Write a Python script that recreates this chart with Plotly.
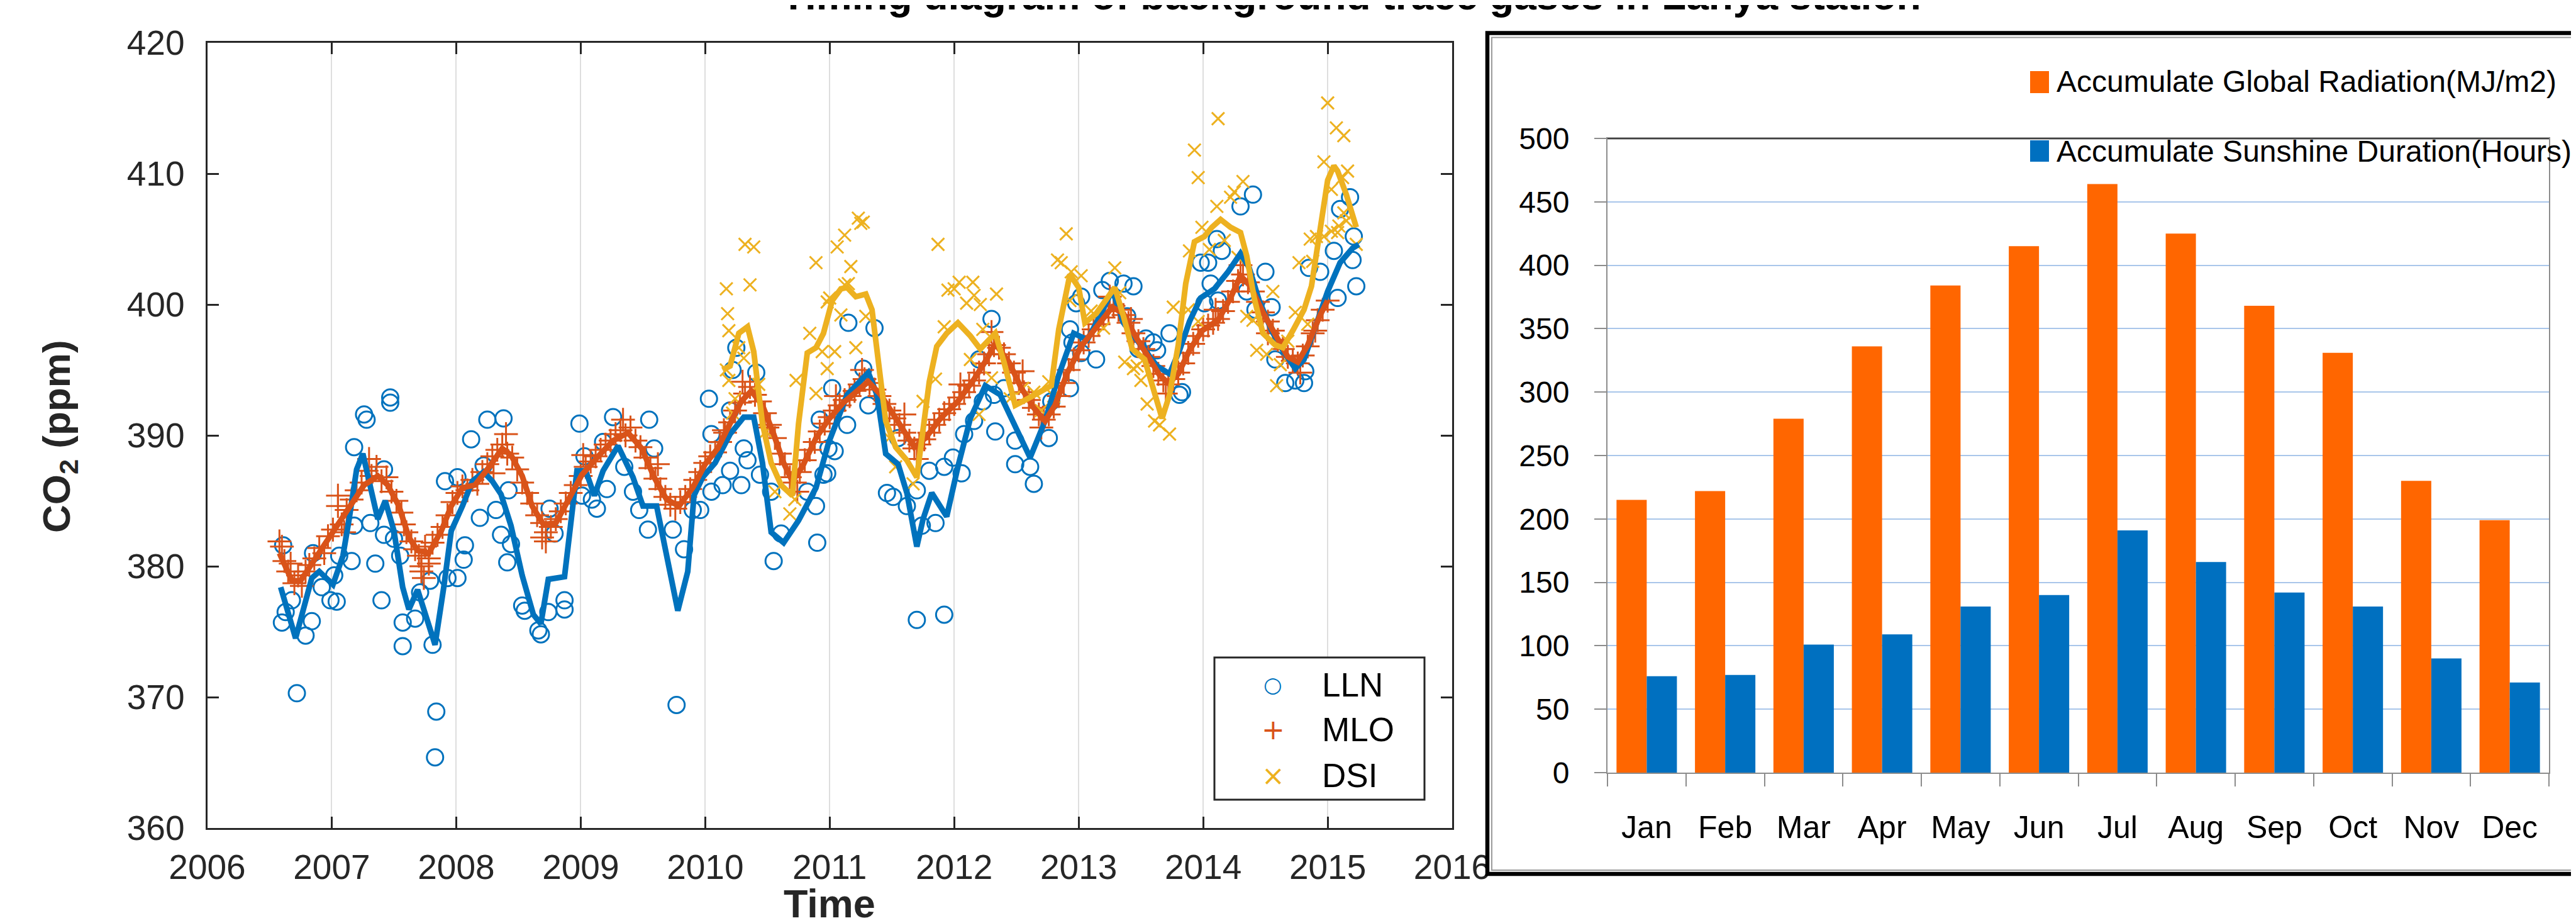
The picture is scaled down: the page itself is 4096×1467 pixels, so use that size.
import plotly.graph_objects as go

# ---------------- data : left panel (CO2 time series) ----------------
LLN_T = [2006.60, 2006.61, 2006.63, 2006.68, 2006.72, 2006.79, 2006.84, 2006.85, 2006.92, 2006.99,
         2007.02, 2007.04, 2007.06, 2007.16, 2007.18, 2007.18, 2007.26, 2007.28, 2007.31, 2007.35,
         2007.40, 2007.42, 2007.42, 2007.47, 2007.47, 2007.50, 2007.55, 2007.57, 2007.57, 2007.67,
         2007.71, 2007.79, 2007.81, 2007.83, 2007.84, 2007.91, 2007.93, 2008.01, 2008.01, 2008.06,
         2008.07, 2008.12, 2008.19, 2008.22, 2008.25, 2008.32, 2008.36, 2008.38, 2008.41, 2008.42,
         2008.44, 2008.53, 2008.55, 2008.66, 2008.68, 2008.74, 2008.75, 2008.79, 2008.87, 2008.87,
         2008.99, 2009.01, 2009.03, 2009.09, 2009.13, 2009.18, 2009.21, 2009.26, 2009.35, 2009.42,
         2009.47, 2009.54, 2009.55, 2009.59, 2009.74, 2009.77, 2009.83, 2009.90, 2009.96, 2010.03,
         2010.05, 2010.05, 2010.14, 2010.20, 2010.20, 2010.22, 2010.25, 2010.29, 2010.31, 2010.34,
         2010.41, 2010.44, 2010.53, 2010.55, 2010.61, 2010.82, 2010.89, 2010.90, 2010.92, 2010.95,
         2010.98, 2010.99, 2011.02, 2011.04, 2011.14, 2011.15, 2011.27, 2011.31, 2011.36, 2011.46,
         2011.51, 2011.55, 2011.62, 2011.70, 2011.70, 2011.74, 2011.80, 2011.85, 2011.92, 2011.92,
         2011.99, 2012.06, 2012.08, 2012.16, 2012.20, 2012.23, 2012.30, 2012.32, 2012.33, 2012.40,
         2012.49, 2012.49, 2012.61, 2012.64, 2012.76, 2012.78, 2012.93, 2012.93, 2012.95, 2012.98,
         2013.02, 2013.02, 2013.14, 2013.19, 2013.25, 2013.36, 2013.39, 2013.44, 2013.48, 2013.54,
         2013.60, 2013.63, 2013.73, 2013.81, 2013.83, 2013.98, 2014.01, 2014.04, 2014.06, 2014.11,
         2014.12, 2014.15, 2014.30, 2014.35, 2014.40, 2014.42, 2014.50, 2014.55, 2014.58, 2014.66,
         2014.74, 2014.81, 2014.82, 2014.85, 2014.94, 2015.05, 2015.08, 2015.10, 2015.18, 2015.20,
         2015.21, 2015.23]
LLN_V = [375.7, 381.6, 376.5, 377.4, 370.3, 374.7, 375.8, 381.0, 378.4, 377.4,
         379.3, 377.3, 380.8, 380.4, 383.1, 389.1, 391.6, 391.2, 383.3, 380.2,
         377.4, 387.4, 382.4, 392.9, 392.5, 382.1, 380.8, 375.7, 373.9, 376.0,
         378.0, 378.9, 374.0, 365.4, 368.9, 386.5, 379.1, 379.1, 386.8, 380.5,
         381.6, 389.7, 383.7, 387.7, 391.2, 384.3, 382.4, 391.3, 380.3, 385.8,
         381.7, 377.0, 376.6, 375.1, 374.8, 376.5, 384.4, 382.5, 377.4, 376.7,
         390.9, 385.4, 388.4, 385.1, 384.4, 389.5, 385.9, 391.4, 387.6, 385.7,
         384.3, 382.8, 391.2, 389.0, 382.8, 369.4, 381.3, 384.3, 384.3, 392.8,
         390.1, 385.7, 386.2, 387.3, 391.9, 395.0, 396.7, 386.2, 389.0, 388.1,
         394.8, 387.0, 385.7, 380.4, 382.5, 385.7, 384.6, 381.8, 391.2, 387.0,
         387.1, 389.0, 393.6, 388.8, 390.8, 398.6, 395.1, 392.3, 398.2, 385.6,
         385.3, 389.8, 384.6, 375.9, 385.8, 383.1, 387.3, 383.3, 376.3, 387.6,
         388.3, 387.1, 390.1, 391.1, 395.8, 392.6, 398.9, 393.1, 390.3, 393.6,
         387.8, 389.6, 387.6, 386.3, 389.8, 392.6, 393.6, 398.1, 397.1, 400.1,
         400.6, 396.3, 395.8, 401.1, 401.8, 401.6, 399.1, 401.4, 396.6, 397.4,
         397.1, 396.5, 397.8, 393.1, 393.3, 403.2, 400.1, 403.2, 401.6, 405.0,
         400.3, 404.1, 407.5, 401.0, 408.4, 399.6, 402.5, 399.8, 395.8, 394.0,
         394.2, 394.0, 394.9, 402.8, 402.5, 404.1, 400.5, 407.3, 408.2, 403.4,
         405.2, 401.4]

MLO_T = [2006.60, 2006.62, 2006.65, 2006.67, 2006.70, 2006.73, 2006.76, 2006.79, 2006.82, 2006.86,
         2006.90, 2006.94, 2006.97, 2007.01, 2007.05, 2007.08, 2007.12, 2007.16, 2007.20, 2007.24,
         2007.28, 2007.32, 2007.36, 2007.40, 2007.44, 2007.48, 2007.52, 2007.56, 2007.60, 2007.64,
         2007.67, 2007.70, 2007.72, 2007.75, 2007.78, 2007.81, 2007.85, 2007.89, 2007.93, 2007.97,
         2008.01, 2008.05, 2008.09, 2008.13, 2008.17, 2008.21, 2008.25, 2008.29, 2008.33, 2008.37,
         2008.41, 2008.45, 2008.49, 2008.53, 2008.57, 2008.61, 2008.65, 2008.69, 2008.72, 2008.76,
         2008.80, 2008.84, 2008.88, 2008.92, 2008.96, 2009.00, 2009.04, 2009.08, 2009.12, 2009.16,
         2009.20, 2009.24, 2009.28, 2009.32, 2009.36, 2009.40, 2009.44, 2009.48, 2009.52, 2009.56,
         2009.60, 2009.64, 2009.68, 2009.72, 2009.76, 2009.80, 2009.84, 2009.88, 2009.92, 2009.96,
         2010.00, 2010.04, 2010.08, 2010.12, 2010.16, 2010.20, 2010.24, 2010.28, 2010.32, 2010.36,
         2010.40, 2010.44, 2010.48, 2010.52, 2010.56, 2010.60, 2010.64, 2010.68, 2010.72, 2010.76,
         2010.80, 2010.84, 2010.88, 2010.92, 2010.96, 2011.00, 2011.04, 2011.08, 2011.12, 2011.16,
         2011.20, 2011.24, 2011.28, 2011.32, 2011.36, 2011.40, 2011.44, 2011.48, 2011.52, 2011.56,
         2011.60, 2011.64, 2011.68, 2011.72, 2011.76, 2011.80, 2011.84, 2011.88, 2011.92, 2011.96,
         2012.00, 2012.04, 2012.08, 2012.12, 2012.16, 2012.20, 2012.24, 2012.28, 2012.32, 2012.36,
         2012.40, 2012.44, 2012.48, 2012.52, 2012.56, 2012.60, 2012.64, 2012.68, 2012.72, 2012.76,
         2012.80, 2012.84, 2012.88, 2012.92, 2012.96, 2013.00, 2013.04, 2013.08, 2013.12, 2013.16,
         2013.20, 2013.24, 2013.28, 2013.32, 2013.36, 2013.40, 2013.44, 2013.48, 2013.52, 2013.56,
         2013.60, 2013.64, 2013.68, 2013.72, 2013.76, 2013.80, 2013.84, 2013.88, 2013.92, 2013.96,
         2014.00, 2014.04, 2014.08, 2014.12, 2014.16, 2014.20, 2014.24, 2014.28, 2014.32, 2014.36,
         2014.40, 2014.44, 2014.48, 2014.52, 2014.56, 2014.60, 2014.64, 2014.68, 2014.72, 2014.76,
         2014.80, 2014.84, 2014.88, 2014.92, 2014.96, 2015.00,
         2006.58, 2007.05, 2007.10, 2007.30, 2007.58, 2007.72, 2007.74, 2007.78, 2008.30, 2008.40,
         2008.69, 2008.72, 2009.02, 2009.34, 2009.62, 2010.15, 2010.30, 2010.50, 2010.74, 2011.05,
         2011.26, 2011.60, 2011.70, 2012.05, 2012.30, 2012.55, 2012.70, 2013.25, 2013.42, 2013.70,
         2014.10, 2014.30, 2014.52, 2014.78, 2014.90]
MLO_V = [381.5, 380.4, 379.6, 380.2, 378.7, 379.3, 378.5, 379.6, 380.1, 380.6,
         381.4, 381.0, 382.3, 382.8, 384.6, 383.2, 384.3, 385.1, 385.8, 386.4,
         387.3, 386.9, 387.6, 386.5, 386.8, 385.7, 385.0, 384.1, 382.6, 381.9,
         381.3, 380.8, 380.0, 381.5, 380.6, 381.8, 382.4, 383.0, 383.9, 384.9,
         385.6, 386.1, 385.8, 386.6, 386.3, 387.2, 387.8, 388.4, 388.9, 389.3,
         388.6, 388.3, 387.4, 386.4, 385.6, 384.8, 383.9, 383.3, 382.6, 383.0,
         383.6, 384.2, 384.8, 385.6, 386.2, 386.9, 387.6, 388.0, 388.4, 388.9,
         389.3, 389.6, 390.1, 390.4, 390.0, 390.6, 389.6, 389.1, 388.3, 387.5,
         386.7, 385.9, 385.3, 384.7, 384.4, 384.9, 385.3, 385.9, 386.6, 387.2,
         387.9, 388.4, 388.7, 389.5, 390.2, 391.0, 391.9, 392.5, 393.2, 393.7,
         393.1, 392.6, 391.7, 390.8, 389.8, 388.6, 387.8, 386.8, 386.4, 387.2,
         388.1, 388.9, 389.5, 390.3, 390.9, 391.4, 391.9, 392.3, 392.7, 393.0,
         393.4, 393.9, 394.3, 394.0, 393.5, 393.0, 392.4, 391.9, 391.3, 390.8,
         390.2, 389.6, 389.0, 389.3, 389.7, 390.2, 390.8, 391.2, 391.7, 392.0,
         392.4, 392.9, 393.3, 393.8, 394.2, 394.8, 395.5, 396.2, 396.9, 396.7,
         396.2, 395.5, 394.8, 394.0, 393.3, 392.7, 392.1, 391.6, 391.2, 391.6,
         392.2, 393.0, 394.0, 395.0, 395.8, 396.5, 397.1, 397.6, 398.1, 398.5,
         399.0, 399.5, 399.9, 399.6, 399.2, 398.6, 397.8, 397.2, 396.6, 396.0,
         395.3, 394.7, 394.2, 393.9, 394.3, 394.8, 395.5, 396.3, 397.0, 397.6,
         398.1, 398.4, 398.6, 398.9, 399.5, 400.2, 401.0, 401.8, 402.3, 401.7,
         401.0, 400.2, 399.4, 398.7, 398.0, 397.3, 396.6, 396.0, 395.7, 395.5,
         396.1, 396.8, 397.8, 398.8, 399.6, 400.3,
         381.9, 385.4, 382.6, 388.2, 383.2, 379.6, 379.1, 380.2, 387.1, 390.1,
         382.2, 381.9, 388.5, 391.2, 387.8, 390.4, 394.1, 390.6, 385.7, 393.0,
         395.0, 391.6, 388.2, 393.9, 397.9, 394.9, 390.6, 400.6, 398.9, 393.2,
         399.6, 403.0, 397.8, 394.8, 398.0]

DSI_T = [2010.17, 2010.18, 2010.19, 2010.17, 2010.19, 2010.22, 2010.24, 2010.27, 2010.31, 2010.32,
         2010.36, 2010.39, 2010.43, 2010.49, 2010.56, 2010.68, 2010.72, 2010.73, 2010.84, 2010.89,
         2010.89, 2010.94, 2010.98, 2010.98, 2011.00, 2011.04, 2011.06, 2011.09, 2011.12, 2011.12,
         2011.15, 2011.17, 2011.21, 2011.23, 2011.25, 2011.27, 2011.29, 2011.48, 2011.53, 2011.67,
         2011.75, 2011.85, 2011.87, 2011.92, 2011.95, 2012.00, 2012.04, 2012.10, 2012.13, 2012.15,
         2012.16, 2012.20, 2012.21, 2012.23, 2012.30, 2012.34, 2012.45, 2012.55, 2012.64, 2012.70,
         2012.76, 2012.80, 2012.83, 2012.86, 2012.90, 2012.93, 2012.94, 2013.02, 2013.10, 2013.20,
         2013.29, 2013.33, 2013.37, 2013.44, 2013.47, 2013.50, 2013.55, 2013.61, 2013.65, 2013.73,
         2013.76, 2013.88, 2013.89, 2013.93, 2013.96, 2013.96, 2013.99, 2014.05, 2014.11, 2014.12,
         2014.17, 2014.22, 2014.25, 2014.28, 2014.32, 2014.35, 2014.40, 2014.43, 2014.51, 2014.56,
         2014.59, 2014.62, 2014.68, 2014.74, 2014.77, 2014.84, 2014.86, 2014.88, 2014.91, 2014.97,
         2014.97, 2015.00, 2015.03, 2015.03, 2015.07, 2015.08, 2015.09, 2015.12, 2015.13, 2015.13,
         2015.15, 2015.16, 2015.23]
DSI_V = [401.2, 399.3, 398.0, 395.0, 394.2, 391.7, 392.8, 396.7, 395.9, 404.6,
         401.5, 404.4, 393.9, 390.3, 385.7, 384.0, 385.1, 394.2, 397.8, 393.2,
         403.2, 396.4, 395.1, 400.2, 400.5, 396.4, 404.4, 399.2, 405.3, 401.5,
         401.6, 402.9, 396.7, 406.6, 406.2, 406.3, 399.1, 389.8, 387.6, 386.3,
         392.6, 394.3, 404.6, 398.3, 401.1, 401.2, 401.7, 400.1, 395.8, 401.7,
         400.7, 391.6, 400.0, 398.1, 394.4, 400.8, 392.8, 393.6, 393.3, 391.9,
         394.1, 393.0, 403.4, 403.2, 405.4, 400.3, 402.5, 402.2, 399.5, 398.2,
         402.8, 400.9, 395.6, 395.1, 395.3, 394.2, 392.4, 391.1, 390.8, 390.1,
         399.8, 399.6, 404.1, 411.8, 409.7, 398.7, 405.9, 404.2, 407.5, 414.2,
         404.9, 408.2, 408.6, 403.6, 409.4, 399.1, 398.8, 396.5, 396.2, 401.0,
         393.8, 395.4, 397.2, 399.4, 403.2, 398.5, 405.0, 403.3, 405.2, 405.2,
         410.9, 415.4, 408.8, 405.6, 413.5, 405.5, 406.0, 409.7, 412.9, 407.0,
         406.4, 410.2, 404.6]

LLN_FIT_T = [2006.59, 2006.71, 2006.84, 2006.90, 2007.01, 2007.09, 2007.14, 2007.20, 2007.25, 2007.30,
             2007.37, 2007.43, 2007.50, 2007.57, 2007.62, 2007.69, 2007.78, 2007.83, 2007.90, 2007.96,
             2008.05, 2008.13, 2008.22, 2008.29, 2008.36, 2008.44, 2008.53, 2008.62, 2008.68, 2008.74,
             2008.87, 2008.92, 2008.97, 2009.04, 2009.11, 2009.18, 2009.30, 2009.42, 2009.50, 2009.61,
             2009.69, 2009.78, 2009.86, 2009.91, 2009.98, 2010.08, 2010.20, 2010.31, 2010.39, 2010.46,
             2010.53, 2010.63, 2010.75, 2010.89, 2010.99, 2011.14, 2011.31, 2011.38, 2011.45, 2011.55,
             2011.62, 2011.70, 2011.75, 2011.82, 2011.94, 2012.03, 2012.13, 2012.25, 2012.37, 2012.49,
             2012.61, 2012.73, 2012.84, 2012.96, 2013.07, 2013.17, 2013.27, 2013.36, 2013.46, 2013.54,
             2013.63, 2013.73, 2013.81, 2013.89, 2013.98, 2014.09, 2014.20, 2014.30, 2014.37, 2014.45,
             2014.55, 2014.64, 2014.74, 2014.81, 2014.90, 2015.00, 2015.10, 2015.20, 2015.25]
LLN_FIT_V = [378.4, 374.5, 379.1, 379.6, 378.6, 380.8, 383.6, 387.4, 388.6, 386.7,
             383.6, 385.0, 382.7, 378.4, 376.7, 378.2, 375.5, 374.0, 378.4, 382.7,
             384.6, 386.5, 387.2, 386.5, 385.5, 383.1, 379.3, 376.3, 375.6, 379.0,
             379.2, 383.5, 387.3, 387.3, 385.4, 387.3, 389.2, 386.8, 384.6, 384.6,
             380.7, 376.6, 379.6, 385.4, 386.8, 387.9, 390.1, 391.4, 391.4, 387.9,
             382.6, 381.8, 383.5, 386.0, 389.4, 393.1, 394.8, 393.1, 388.6, 387.8,
             385.6, 381.5, 383.6, 385.6, 383.8, 387.6, 391.3, 393.8, 393.1, 390.6,
             388.3, 391.1, 394.6, 397.8, 397.3, 399.1, 401.1, 398.6, 397.4, 396.5,
             395.3, 394.7, 396.5, 398.7, 400.5, 401.2, 402.5, 403.9, 402.8, 400.3,
             398.0, 396.5, 395.1, 395.8, 398.3, 401.0, 403.2, 404.3, 404.6]

MLO_FIT_T = [2006.58, 2006.68, 2006.75, 2006.85, 2006.96, 2007.06, 2007.16, 2007.26, 2007.37, 2007.45,
             2007.54, 2007.62, 2007.69, 2007.78, 2007.88, 2007.96, 2008.05, 2008.15, 2008.25, 2008.37,
             2008.44, 2008.53, 2008.61, 2008.70, 2008.80, 2008.91, 2009.01, 2009.15, 2009.26, 2009.38,
             2009.49, 2009.59, 2009.69, 2009.79, 2009.90, 2010.00, 2010.10, 2010.20, 2010.29, 2010.37,
             2010.46, 2010.55, 2010.63, 2010.70, 2010.78, 2010.89, 2010.99, 2011.11, 2011.21, 2011.31,
             2011.41, 2011.51, 2011.62, 2011.68, 2011.77, 2011.89, 2012.03, 2012.16, 2012.26, 2012.33,
             2012.44, 2012.54, 2012.64, 2012.73, 2012.81, 2012.91, 2013.02, 2013.15, 2013.27, 2013.36,
             2013.46, 2013.56, 2013.65, 2013.72, 2013.80, 2013.89, 2013.99, 2014.12, 2014.22, 2014.30,
             2014.38, 2014.48, 2014.58, 2014.68, 2014.76, 2014.84, 2014.94, 2015.00]
MLO_FIT_V = [381.0, 378.9, 378.9, 380.3, 381.9, 383.4, 384.8, 386.2, 386.9, 386.2,
             384.6, 382.2, 381.2, 381.0, 382.7, 384.6, 386.0, 386.2, 387.4, 389.0,
             388.5, 386.9, 384.6, 383.2, 383.3, 385.2, 387.0, 388.5, 389.6, 390.2,
             389.0, 386.8, 385.1, 384.6, 386.0, 387.8, 389.0, 390.9, 392.6, 393.4,
             392.3, 390.1, 387.9, 386.5, 387.6, 389.8, 391.2, 392.5, 393.3, 394.1,
             393.1, 391.6, 390.0, 389.1, 389.8, 391.3, 392.6, 394.3, 395.8, 397.0,
             395.6, 393.6, 392.1, 391.1, 392.3, 394.8, 396.8, 398.3, 399.8, 399.3,
             397.5, 396.0, 394.6, 394.0, 394.7, 396.5, 398.0, 398.8, 400.5, 402.2,
             401.4, 399.4, 397.6, 396.0, 395.6, 396.9, 399.2, 400.3]

DSI_FIT_T = [2010.14, 2010.20, 2010.27, 2010.34, 2010.39, 2010.46, 2010.53, 2010.61, 2010.70, 2010.75,
             2010.82, 2010.89, 2010.95, 2011.02, 2011.09, 2011.14, 2011.21, 2011.29, 2011.34, 2011.39,
             2011.45, 2011.53, 2011.62, 2011.70, 2011.75, 2011.80, 2011.86, 2011.94, 2012.03, 2012.13,
             2012.21, 2012.33, 2012.40, 2012.49, 2012.59, 2012.69, 2012.78, 2012.84, 2012.93, 2013.00,
             2013.05, 2013.14, 2013.24, 2013.29, 2013.36, 2013.43, 2013.53, 2013.60, 2013.67, 2013.73,
             2013.80, 2013.86, 2013.93, 2014.01, 2014.07, 2014.14, 2014.22, 2014.30, 2014.35, 2014.41,
             2014.48, 2014.58, 2014.64, 2014.72, 2014.81, 2014.87, 2014.94, 2015.00, 2015.05, 2015.08,
             2015.15, 2015.23]
DSI_FIT_V = [395.0, 395.3, 397.8, 398.3, 396.4, 390.9, 387.9, 386.2, 385.4, 390.9,
             396.3, 396.7, 397.8, 400.3, 401.2, 401.3, 400.6, 400.8, 399.6, 395.6,
             391.1, 389.1, 388.1, 386.8, 390.6, 394.1, 396.8, 397.8, 398.6, 397.6,
             396.6, 397.8, 395.6, 392.3, 392.8, 393.3, 393.8, 398.1, 402.3, 401.3,
             398.6, 399.3, 400.6, 401.3, 399.1, 396.6, 395.8, 393.6, 391.3, 393.1,
             396.9, 401.6, 404.8, 405.2, 405.9, 406.5, 405.9, 405.5, 403.7, 400.5,
             397.8, 396.9, 396.7, 398.0, 399.6, 401.4, 405.9, 409.5, 410.6, 410.2,
             408.4, 405.9]

YEAR_TICKS = [2006, 2007, 2008, 2009, 2010, 2011, 2012, 2013, 2014, 2015, 2016]
PPM_TICKS = [360, 370, 380, 390, 400, 410, 420]

# ---------------- data : right panel (monthly bars) ----------------
MONTHS = ["Jan", "Feb", "Mar", "Apr", "May", "Jun", "Jul", "Aug", "Sep", "Oct", "Nov", "Dec"]
RADIATION = [215, 222, 279, 336, 384, 415, 464, 425, 368, 331, 230, 199]
SUNSHINE = [76, 77, 101, 109, 131, 140, 191, 166, 142, 131, 90, 71]
BAR_TICKS = [0, 50, 100, 150, 200, 250, 300, 350, 400, 450, 500]

# ---------------- styling ----------------
W, H = 4096, 1467
C_LLN, C_MLO, C_DSI = "#0072BD", "#D95319", "#EDB120"
C_RAD, C_SUN = "#FF6600", "#0070C0"
FONT = "Liberation Sans, Arial, Helvetica, sans-serif"
AX = "#262626"


def px(x):
    return x / W


def py(y):
    return 1 - y / H


fig = go.Figure()

fig.add_trace(go.Scatter(x=LLN_T, y=LLN_V, mode="markers", name="LLN",
                         marker=dict(symbol="circle-open", size=26, color=C_LLN,
                                     line=dict(width=3, color=C_LLN)),
                         xaxis="x", yaxis="y", showlegend=False))
fig.add_trace(go.Scatter(x=MLO_T, y=MLO_V, mode="markers", name="MLO",
                         marker=dict(symbol="cross-thin-open", size=27, color=C_MLO,
                                     line=dict(width=3, color=C_MLO)),
                         xaxis="x", yaxis="y", showlegend=False))
fig.add_trace(go.Scatter(x=DSI_T, y=DSI_V, mode="markers", name="DSI",
                         marker=dict(symbol="x-thin-open", size=20, color=C_DSI,
                                     line=dict(width=3, color=C_DSI)),
                         xaxis="x", yaxis="y", showlegend=False))
fig.add_trace(go.Scatter(x=LLN_FIT_T, y=LLN_FIT_V, mode="lines",
                         line=dict(color=C_LLN, width=9), xaxis="x", yaxis="y", showlegend=False))
fig.add_trace(go.Scatter(x=MLO_FIT_T, y=MLO_FIT_V, mode="lines",
                         line=dict(color=C_MLO, width=9), xaxis="x", yaxis="y", showlegend=False))
fig.add_trace(go.Scatter(x=DSI_FIT_T, y=DSI_FIT_V, mode="lines",
                         line=dict(color=C_DSI, width=9), xaxis="x", yaxis="y", showlegend=False))

fig.add_trace(go.Bar(x=MONTHS, y=RADIATION, name="Accumulate Global Radiation(MJ/m2)",
                     marker=dict(color=C_RAD, line=dict(width=0)), xaxis="x2", yaxis="y2",
                     showlegend=False))
fig.add_trace(go.Bar(x=MONTHS, y=SUNSHINE, name="Accumulate Sunshine Duration(Hours)",
                     marker=dict(color=C_SUN, line=dict(width=0)), xaxis="x2", yaxis="y2",
                     showlegend=False))

fig.update_layout(
    template="none",
    width=W, height=H,
    margin=dict(l=0, r=0, t=0, b=0, autoexpand=False),
    paper_bgcolor="white", plot_bgcolor="white",
    font=dict(family=FONT, color=AX),
    barmode="group", bargap=0.23, bargroupgap=0,
    xaxis=dict(domain=[px(321.5), px(2301)], range=[2006, 2016], tickvals=YEAR_TICKS,
               ticks="inside", ticklen=18, tickwidth=3, tickcolor=AX,
               showline=True, linecolor=AX, linewidth=3, mirror="ticks",
               showgrid=True, gridcolor="#dedede", gridwidth=2, zeroline=False,
               tickfont=dict(size=55, color=AX, family=FONT), ticklabelstandoff=12,
               automargin=False, anchor="y"),
    yaxis=dict(domain=[py(1308), py(60)], range=[360, 420], tickvals=PPM_TICKS,
               ticks="inside", ticklen=18, tickwidth=3, tickcolor=AX,
               showline=True, linecolor=AX, linewidth=3, mirror="ticks",
               showgrid=False, zeroline=False,
               tickfont=dict(size=55, color=AX, family=FONT), ticklabelstandoff=22,
               automargin=False, anchor="x"),
    xaxis2=dict(domain=[px(2548), px(4045)], type="category", anchor="y2",
                tickson="boundaries", ticks="outside", ticklen=20, tickwidth=1.5,
                tickcolor="#8c8c8c", showline=True, linecolor="#8c8c8c", linewidth=2,
                mirror=True, showgrid=False, zeroline=False, automargin=False,
                tickfont=dict(size=50, color="black", family=FONT), ticklabelstandoff=42),
    yaxis2=dict(domain=[py(1220), py(212)], range=[0, 500], tickvals=BAR_TICKS,
                ticks="outside", ticklen=19, tickwidth=1.5, tickcolor="#8c8c8c",
                showline=True, linecolor="#8c8c8c", linewidth=2, mirror=True,
                showgrid=True, gridcolor="#a9c6ea", gridwidth=2, zeroline=False,
                tickfont=dict(size=48, color="black", family=FONT), ticklabelstandoff=30,
                automargin=False, anchor="x2"),
)

shapes = []
shapes.append(dict(type="line", xref="x2 domain", yref="y2", x0=0, x1=1, y0=500, y1=500,
                   line=dict(color="black", width=2.5), layer="above"))
shapes.append(dict(type="rect", xref="paper", yref="paper", x0=px(2357), x1=px(4115),
                   y0=py(1381), y1=py(44.5), line=dict(color="black", width=6.5),
                   fillcolor="rgba(0,0,0,0)", layer="above"))
shapes.append(dict(type="rect", xref="paper", yref="paper", x0=px(2364), x1=px(4115),
                   y0=py(1375), y1=py(51.5), line=dict(color="#9a9a9a", width=2),
                   fillcolor="rgba(0,0,0,0)", layer="above"))
shapes.append(dict(type="rect", xref="paper", yref="paper", x0=px(1923), x1=px(2257),
                   y0=py(1263), y1=py(1037), line=dict(color=AX, width=3),
                   fillcolor="white", layer="above"))
shapes.append(dict(type="rect", xref="paper", yref="paper", x0=px(3220), x1=px(3250),
                   y0=py(140), y1=py(105), line=dict(width=0), fillcolor=C_RAD, layer="above"))
shapes.append(dict(type="rect", xref="paper", yref="paper", x0=px(3220), x1=px(3250),
                   y0=py(249), y1=py(215), line=dict(width=0), fillcolor=C_SUN, layer="above"))
fig.update_layout(shapes=shapes)

ann = []
ann.append(dict(text="<b>Timing diagram of background trace gases in Lanya station</b>",
                xref="paper", yref="paper", x=px(2140), y=py(-15), xanchor="center",
                yanchor="middle", showarrow=False, font=dict(size=64, color="black", family=FONT)))
ann.append(dict(text="<b>CO<sub>2</sub> (ppm)</b>", xref="paper", yref="paper",
                x=px(86), y=py(686), textangle=-90, xanchor="center", yanchor="middle",
                showarrow=False, font=dict(size=62, color=AX, family=FONT)))
ann.append(dict(text="<b>Time</b>", xref="paper", yref="paper", x=px(1311), y=py(1428),
                xanchor="center", yanchor="middle", showarrow=False,
                font=dict(size=63, color=AX, family=FONT)))
LEG_NAMES = ["LLN", "MLO", "DSI"]
LEG_GLYPHS = ["\u25CB", "+", "\u00D7"]
LEG_COLORS = [C_LLN, C_MLO, C_DSI]
LEG_GSIZE = [34, 44, 44]
LEG_ROWS = [1080, 1151, 1224]
for name, g, c, gs, ry in zip(LEG_NAMES, LEG_GLYPHS, LEG_COLORS, LEG_GSIZE, LEG_ROWS):
    ann.append(dict(text=g, xref="paper", yref="paper", x=px(2016), y=py(ry),
                    xanchor="center", yanchor="middle", showarrow=False,
                    font=dict(size=gs, color=c, family="DejaVu Sans, Liberation Sans")))
    ann.append(dict(text=name, xref="paper", yref="paper", x=px(2092), y=py(ry),
                    xanchor="left", yanchor="middle", showarrow=False,
                    font=dict(size=53, color="black", family=FONT)))
ann.append(dict(text="Accumulate Global Radiation(MJ/m2)", xref="paper", yref="paper",
                x=px(3260), y=py(122), xanchor="left", yanchor="middle", showarrow=False,
                font=dict(size=48, color="black", family=FONT)))
ann.append(dict(text="Accumulate Sunshine Duration(Hours)", xref="paper", yref="paper",
                x=px(3260), y=py(232), xanchor="left", yanchor="middle", showarrow=False,
                font=dict(size=48, color="black", family=FONT)))
fig.update_layout(annotations=ann)

fig.write_html("out.html")
